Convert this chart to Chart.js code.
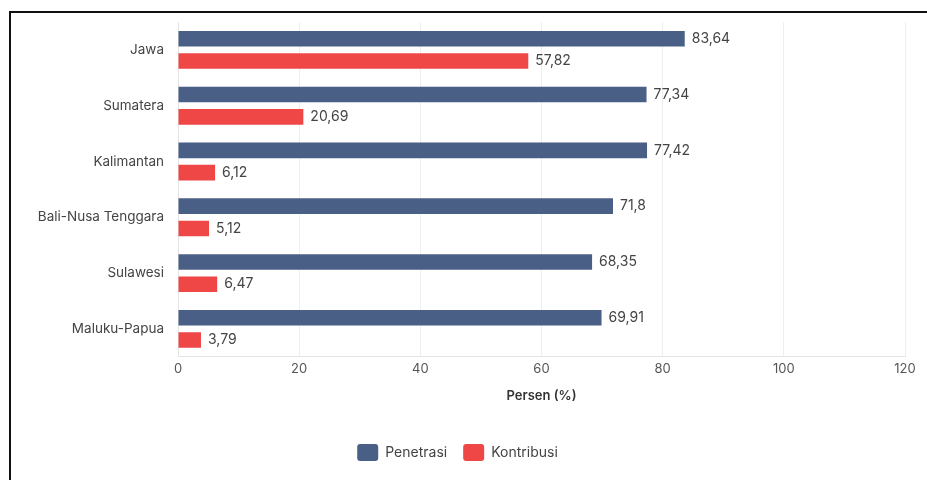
<!DOCTYPE html>
<html>
<head>
<meta charset="utf-8">
<script src="https://cdn.jsdelivr.net/npm/chart.js@4.4.1/dist/chart.umd.min.js"></script>
<style>
  html, body { margin: 0; padding: 0; background: #fff; }
  #wrap { position: relative; width: 927px; height: 480px; overflow: hidden; }
  #frame { position: absolute; left: 9px; top: 11px; right: 0; bottom: 0; border-top: 2px solid #111; border-left: 2px solid #111; }
  canvas { position: absolute; left: 0; top: 0; }
</style>
</head>
<body>
<div id="wrap">
  <div id="frame"></div>
  <canvas id="chart" width="927" height="480"></canvas>
</div>
<script>
const regions = ['Jawa', 'Sumatera', 'Kalimantan', 'Bali-Nusa Tenggara', 'Sulawesi', 'Maluku-Papua'];
const penetrasi = [83.64, 77.34, 77.42, 71.8, 68.35, 69.91];
const kontribusi = [57.82, 20.69, 6.12, 5.12, 6.47, 3.79];
const xTicks = [0, 20, 40, 60, 80, 100, 120];

const FONT = 'Inter, "Noto Sans", sans-serif';

// value labels at the end of each bar, comma as decimal mark
const valueLabels = {
  id: 'valueLabels',
  afterDatasetsDraw(chart) {
    const ctx = chart.ctx;
    ctx.save();
    ctx.font = '14px ' + FONT;
    ctx.fillStyle = '#444';
    ctx.textAlign = 'left';
    ctx.textBaseline = 'middle';
    chart.data.datasets.forEach((ds, i) => {
      chart.getDatasetMeta(i).data.forEach((bar, j) => {
        const txt = String(ds.data[j]).replace('.', ',');
        ctx.fillText(txt, bar.x + 7, bar.y);
      });
    });
    ctx.restore();
  }
};

new Chart(document.getElementById('chart'), {
  type: 'bar',
  data: {
    labels: regions,
    datasets: [
      { label: 'Penetrasi', data: penetrasi, backgroundColor: '#4a5f86', barPercentage: 0.7, categoryPercentage: 0.8 },
      { label: 'Kontribusi', data: kontribusi, backgroundColor: '#ef4646', barPercentage: 0.7, categoryPercentage: 0.8 }
    ]
  },
  options: {
    indexAxis: 'y',
    responsive: false,
    animation: false,
    layout: { padding: { left: 10, right: 22, top: 22, bottom: 9 } },
    plugins: {
      legend: {
        position: 'bottom',
        labels: {
          font: { family: FONT, size: 14 },
          color: '#444',
          boxWidth: 21,
          boxHeight: 17,
          useBorderRadius: true,
          borderRadius: 3,
          padding: 16
        }
      },
      tooltip: { enabled: false }
    },
    scales: {
      x: {
        min: 0, max: 120,
        afterBuildTicks: s => { s.ticks = xTicks.map(v => ({ value: v })); },
        grid: { color: '#eeeeee', drawTicks: false },
        border: { color: '#e4e4e4' },
        ticks: { color: '#555', font: { family: FONT, size: 13 }, padding: 4 },
        title: { display: true, text: 'Persen (%)', color: '#333', font: { family: FONT, size: 13, weight: '600' }, padding: { top: 8, bottom: 24 } }
      },
      y: {
        afterFit: s => { s.width = 168; },
        grid: { display: false },
        border: { color: '#e4e4e4' },
        ticks: { color: '#444', font: { family: FONT, size: 13.5 }, padding: 6 }
      }
    }
  },
  plugins: [valueLabels]
});
</script>
</body>
</html>
